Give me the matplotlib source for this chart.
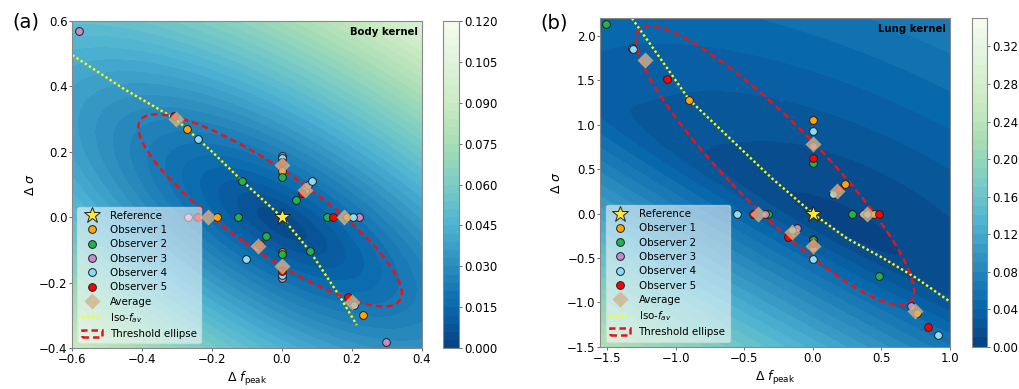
import numpy as np
import matplotlib
matplotlib.use('Agg')
import matplotlib.pyplot as plt
from matplotlib.patches import Ellipse

# ---------------- shared ----------------
obs_labels = ['Observer 1', 'Observer 2', 'Observer 3', 'Observer 4', 'Observer 5']
obs_colors = ['#FFA500', '#22B24C', '#C48DC6', '#8ADDF6', '#FF0000']

# ---------------- panel (a): body kernel ----------------
# order of test directions: +sigma, -sigma, +f, -f, iso-up, iso-down, diag+, diag-
a_obs1_x = [0.0, 0.0, 0.186, -0.185, -0.271, 0.231, 0.065, -0.064]
a_obs1_y = [0.141, -0.105, 0.0, 0.0, 0.269, -0.297, 0.084, -0.083]
a_obs2_x = [0.0, 0.0, 0.129, -0.127, -0.115, 0.079, 0.041, -0.046]
a_obs2_y = [0.122, -0.112, 0.0, 0.0, 0.112, -0.102, 0.054, -0.057]
a_obs3_x = [0.0, 0.0, 0.219, -0.270, -0.580, 0.298, 0.075, -0.072]
a_obs3_y = [0.187, -0.186, 0.0, 0.0, 0.570, -0.382, 0.098, -0.090]
a_obs4_x = [0.0, 0.0, 0.204, -0.242, -0.239, 0.207, 0.085, -0.102]
a_obs4_y = [0.180, -0.176, 0.0, 0.0, 0.238, -0.268, 0.110, -0.127]
a_obs5_x = [0.0, 0.0, 0.147, -0.241, -0.310, 0.190, 0.058, -0.066]
a_obs5_y = [0.170, -0.163, 0.0, 0.0, 0.310, -0.244, 0.075, -0.085]

a_iso_x = [-0.60, -0.45, -0.304, -0.20, -0.115, 0.0, 0.079, 0.166, 0.214]
a_iso_y = [0.495, 0.39, 0.300, 0.20, 0.112, 0.0, -0.102, -0.2425, -0.329]

a_ell_center = (-0.034, 0.021)
a_ell_width = 0.924
a_ell_height = 0.243
a_ell_angle = -36.8

# background field parameters (quadratic cost surface)
a_field_center = (0.0, -0.02)
a_field_P = [[0.0075, 0.0072], [0.0072, 0.0138]]
a_field_floor = 1.6e-5
a_vmax = 0.120
a_cticks = [0.000, 0.015, 0.030, 0.045, 0.060, 0.075, 0.090, 0.105, 0.120]

# ---------------- panel (b): lung kernel ----------------
b_obs1_x = [0.0, 0.0, 0.448, -0.345, -0.903, 0.760, 0.235, -0.160]
b_obs1_y = [1.051, -0.290, 0.0, 0.0, 1.284, -1.115, 0.335, -0.230]
b_obs2_x = [0.0, 0.0, 0.289, -0.330, -1.510, 0.485, 0.152, -0.148]
b_obs2_y = [0.572, -0.298, 0.0, 0.0, 2.140, -0.704, 0.226, -0.180]
b_obs3_x = [0.0, 0.0, 0.365, -0.352, -1.321, 0.718, 0.152, -0.112]
b_obs3_y = [0.764, -0.390, 0.0, 0.0, 1.870, -1.040, 0.226, -0.158]
b_obs4_x = [0.0, 0.0, 0.395, -0.551, -1.313, 0.915, 0.146, -0.148]
b_obs4_y = [0.927, -0.512, 0.0, 0.0, 1.857, -1.363, 0.218, -0.186]
b_obs5_x = [0.0, 0.0, 0.483, -0.437, -1.068, 0.842, 0.190, -0.182]
b_obs5_y = [0.621, -0.335, 0.0, 0.0, 1.518, -1.277, 0.275, -0.260]

b_iso_x = [-1.32, -1.10, -0.903, -0.60, -0.30, 0.0, 0.25, 0.50, 0.75, 1.00]
b_iso_y = [2.20, 1.72, 1.284, 0.84, 0.40, 0.0, -0.28, -0.49, -0.72, -0.99]

b_ell_center = (-0.275, 0.54)
b_ell_width = 3.67
b_ell_height = 0.75
b_ell_angle = -58.3

# background field parameters (valley along the iso direction)
b_field_normal = (0.652, 0.758)
b_field_u0 = 0.06
b_field_s0 = 0.24
b_field_k_low = 0.105
b_field_k_high = 0.03
b_field_k_along = 0.0145
b_field_floor = 4e-5
b_vmax = 0.35
b_cticks = [0.00, 0.04, 0.08, 0.12, 0.16, 0.20, 0.24, 0.28, 0.32]


def draw_panel(ax, cax, data, iso_x, iso_y, ell, Z, X, Y, vmax, nlev,
               cticks, cfmt, title, xlim, ylim, xticks, yticks, ylabelpad):
    levels = np.linspace(0, vmax, nlev)
    cf = ax.contourf(X, Y, np.clip(Z, 0, vmax * 0.9999), levels=levels,
                     cmap='GnBu_r', zorder=0)
    cb = fig.colorbar(cf, cax=cax, ticks=cticks, format=cfmt)
    cb.outline.set_edgecolor('#888888')
    cb.outline.set_linewidth(0.8)
    cax.tick_params(labelsize=8.5, length=2, width=0.6, pad=1.5, color='#555555')

    iso, = ax.plot(iso_x, iso_y, color='yellow', lw=1.7,
                   linestyle=(0, (1, 1.1)), zorder=2, label='Iso-$f_{av}$')
    ax.add_patch(ell)

    handles = []
    for ox, oy, c, lab in zip(data[0::2], data[1::2], obs_colors, obs_labels):
        h, = ax.plot(ox, oy, 'o', ms=5.6, mfc=c, mec='#222222', mew=0.7,
                     zorder=3, label=lab)
        handles.append(h)
    avg_x = np.mean(np.array(data[0::2]), axis=0)
    avg_y = np.mean(np.array(data[1::2]), axis=0)
    havg, = ax.plot(avg_x, avg_y, 'D', ms=8.6, mfc='#D2B48C', mec='none',
                    alpha=0.8, zorder=4, label='Average')
    hstar, = ax.plot([0], [0], '*', ms=12, mfc='#FFE83A', mec='#222222',
                     mew=0.7, zorder=5, label='Reference')

    leg = ax.legend(handles=[hstar] + handles + [havg, iso, ell],
                    loc='lower left', fontsize=7.4, labelspacing=0.42,
                    framealpha=0.55, edgecolor='#dddddd', borderpad=0.4)
    leg.set_zorder(10)

    ax.text(0.9885, 0.982, title, transform=ax.transAxes, ha='right',
            va='top', fontsize=7.3, fontweight='bold')
    ax.set_xlim(*xlim)
    ax.set_ylim(*ylim)
    ax.set_xticks(xticks)
    ax.set_yticks(yticks)
    ax.tick_params(labelsize=8.5, length=2, width=0.6, pad=1.5, color='#555555')
    for sp in ax.spines.values():
        sp.set_edgecolor('#888888')
        sp.set_linewidth(0.8)
    ax.set_xlabel(r'$\Delta\ f_{\mathrm{peak}}$', fontsize=9, labelpad=3)
    ax.set_ylabel(r'$\Delta\ \sigma$', fontsize=9, labelpad=ylabelpad)


fig = plt.figure(figsize=(10.19, 3.89), dpi=100)

ax1 = fig.add_axes([0.0710, 0.1046, 0.3429, 0.8422])
cax1 = fig.add_axes([0.4347, 0.1046, 0.0157, 0.8422])
ax2 = fig.add_axes([0.5893, 0.1087, 0.3427, 0.8442])
cax2 = fig.add_axes([0.9536, 0.1087, 0.0153, 0.8442])

# field (a)
xa = np.linspace(-0.6, 0.4, 300)
ya = np.linspace(-0.4, 0.6, 300)
XA, YA = np.meshgrid(xa, ya)
dxa = XA - a_field_center[0]
dya = YA - a_field_center[1]
P = np.array(a_field_P)
ZA = np.sqrt(P[0, 0] * dxa**2 + 2 * P[0, 1] * dxa * dya + P[1, 1] * dya**2 + a_field_floor)

# field (b)
xb = np.linspace(-1.55, 1.0, 300)
yb = np.linspace(-1.5, 2.2, 300)
XB, YB = np.meshgrid(xb, yb)
nx, ny = b_field_normal
u = nx * XB + ny * YB - b_field_u0
s = ny * XB - nx * YB - b_field_s0
ku = b_field_k_high + (b_field_k_low - b_field_k_high) / (1 + np.exp(u / 0.12))
ZB = np.sqrt((ku * u)**2 + (b_field_k_along * s)**2 + b_field_floor)

ell_a = Ellipse(a_ell_center, a_ell_width, a_ell_height, angle=a_ell_angle,
                fill=False, edgecolor='#E8141B', lw=1.8, linestyle=(0, (2.6, 1.6)),
                zorder=2, label='Threshold ellipse')
ell_b = Ellipse(b_ell_center, b_ell_width, b_ell_height, angle=b_ell_angle,
                fill=False, edgecolor='#E8141B', lw=1.8, linestyle=(0, (2.6, 1.6)),
                zorder=2, label='Threshold ellipse')

a_data = [a_obs1_x, a_obs1_y, a_obs2_x, a_obs2_y, a_obs3_x, a_obs3_y,
          a_obs4_x, a_obs4_y, a_obs5_x, a_obs5_y]
b_data = [b_obs1_x, b_obs1_y, b_obs2_x, b_obs2_y, b_obs3_x, b_obs3_y,
          b_obs4_x, b_obs4_y, b_obs5_x, b_obs5_y]

draw_panel(ax1, cax1, a_data, a_iso_x, a_iso_y, ell_a, ZA, XA, YA,
           a_vmax, 41, a_cticks, '%.3f', 'Body kernel', (-0.6, 0.4), (-0.4, 0.6),
           [-0.6, -0.4, -0.2, 0.0, 0.2, 0.4], [-0.4, -0.2, 0.0, 0.2, 0.4, 0.6], 1.5)
draw_panel(ax2, cax2, b_data, b_iso_x, b_iso_y, ell_b, ZB, XB, YB,
           b_vmax, 36, b_cticks, '%.2f', 'Lung kernel', (-1.55, 1.0), (-1.5, 2.2),
           [-1.5, -1.0, -0.5, 0.0, 0.5, 1.0], [-1.5, -1.0, -0.5, 0.0, 0.5, 1.0, 1.5, 2.0], 3)

fig.text(26 / 1019, 1 - 22 / 389, '(a)', ha='center', va='center', fontsize=14)
fig.text(554 / 1019, 1 - 23 / 389, '(b)', ha='center', va='center', fontsize=14)

fig.savefig('out.png', dpi=100)
